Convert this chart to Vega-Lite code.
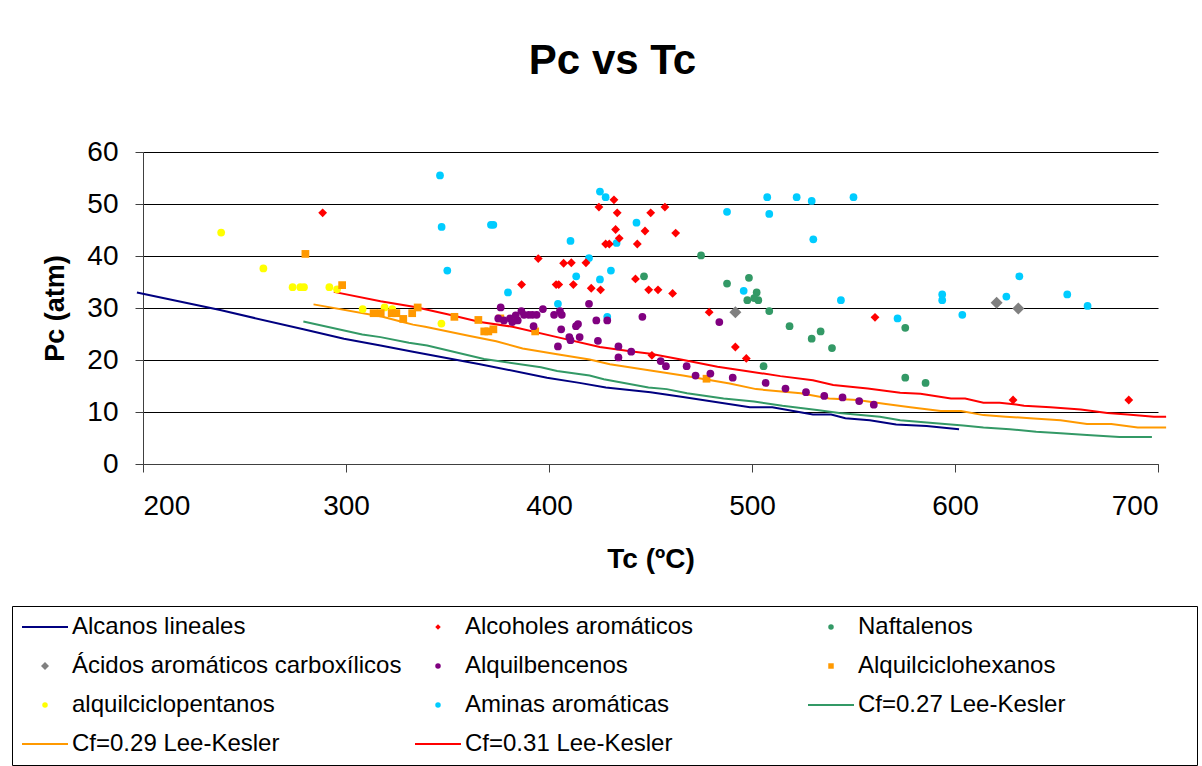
{
  "$schema": "https://vega.github.io/schema/vega-lite/v6.json",
  "width": 1015,
  "height": 312,
  "autosize": {"type": "none"},
  "padding": {"left": 143, "top": 152, "right": 44, "bottom": 302},
  "background": "white",
  "title": {
    "text": "Pc vs Tc",
    "font": "Liberation Sans",
    "fontSize": 42,
    "fontWeight": "bold",
    "color": "black",
    "baseline": "alphabetic",
    "offset": 22,
    "dx": -38
  },
  "config": {
    "view": {"stroke": null},
    "font": "Liberation Sans",
    "axis": {
      "labelFont": "Liberation Sans",
      "labelFontSize": 28,
      "labelColor": "black",
      "titleFont": "Liberation Sans",
      "titleFontSize": 28,
      "titleFontWeight": "bold",
      "titleColor": "black",
      "domainColor": "#404040",
      "domainWidth": 1,
      "tickColor": "#404040",
      "tickSize": 8,
      "gridColor": "black",
      "gridWidth": 1,
      "gridOpacity": 1
    }
  },
  "datasets": {
    "pts": [
      {"serie": "alquilciclopentanos", "Tc": 238.5, "Pc": 44.5},
      {"serie": "alquilciclopentanos", "Tc": 259.3, "Pc": 37.6},
      {"serie": "alquilciclopentanos", "Tc": 273.7, "Pc": 34.0},
      {"serie": "alquilciclopentanos", "Tc": 277.5, "Pc": 34.0},
      {"serie": "alquilciclopentanos", "Tc": 279.3, "Pc": 34.0},
      {"serie": "alquilciclopentanos", "Tc": 291.8, "Pc": 34.0},
      {"serie": "alquilciclopentanos", "Tc": 295.6, "Pc": 33.6},
      {"serie": "alquilciclopentanos", "Tc": 308.2, "Pc": 29.8},
      {"serie": "alquilciclopentanos", "Tc": 319.0, "Pc": 30.1},
      {"serie": "alquilciclopentanos", "Tc": 322.8, "Pc": 29.8},
      {"serie": "alquilciclopentanos", "Tc": 347.0, "Pc": 27.0},

      {"serie": "Alquilciclohexanos", "Tc": 280.0, "Pc": 40.4},
      {"serie": "Alquilciclohexanos", "Tc": 298.1, "Pc": 34.4},
      {"serie": "Alquilciclohexanos", "Tc": 313.6, "Pc": 29.0},
      {"serie": "Alquilciclohexanos", "Tc": 317.1, "Pc": 29.0},
      {"serie": "Alquilciclohexanos", "Tc": 322.5, "Pc": 29.0},
      {"serie": "Alquilciclohexanos", "Tc": 324.8, "Pc": 29.0},
      {"serie": "Alquilciclohexanos", "Tc": 328.2, "Pc": 27.9},
      {"serie": "Alquilciclohexanos", "Tc": 332.6, "Pc": 29.0},
      {"serie": "Alquilciclohexanos", "Tc": 335.3, "Pc": 30.1},
      {"serie": "Alquilciclohexanos", "Tc": 353.4, "Pc": 28.3},
      {"serie": "Alquilciclohexanos", "Tc": 365.2, "Pc": 27.7},
      {"serie": "Alquilciclohexanos", "Tc": 368.1, "Pc": 25.5},
      {"serie": "Alquilciclohexanos", "Tc": 370.1, "Pc": 25.5},
      {"serie": "Alquilciclohexanos", "Tc": 372.6, "Pc": 25.9},
      {"serie": "Alquilciclohexanos", "Tc": 376.0, "Pc": 28.0},
      {"serie": "Alquilciclohexanos", "Tc": 393.2, "Pc": 25.5},
      {"serie": "Alquilciclohexanos", "Tc": 477.6, "Pc": 16.4},

      {"serie": "Alcoholes aromáticos", "Tc": 288.5, "Pc": 48.3},
      {"serie": "Alcoholes aromáticos", "Tc": 386.5, "Pc": 34.5},
      {"serie": "Alcoholes aromáticos", "Tc": 394.7, "Pc": 39.5},
      {"serie": "Alcoholes aromáticos", "Tc": 403.5, "Pc": 34.5},
      {"serie": "Alcoholes aromáticos", "Tc": 404.8, "Pc": 34.5},
      {"serie": "Alcoholes aromáticos", "Tc": 407.2, "Pc": 38.6},
      {"serie": "Alcoholes aromáticos", "Tc": 411.0, "Pc": 38.7},
      {"serie": "Alcoholes aromáticos", "Tc": 412.0, "Pc": 34.5},
      {"serie": "Alcoholes aromáticos", "Tc": 418.2, "Pc": 38.7},
      {"serie": "Alcoholes aromáticos", "Tc": 420.8, "Pc": 33.8},
      {"serie": "Alcoholes aromáticos", "Tc": 424.6, "Pc": 49.4},
      {"serie": "Alcoholes aromáticos", "Tc": 425.4, "Pc": 33.5},
      {"serie": "Alcoholes aromáticos", "Tc": 427.9, "Pc": 42.3},
      {"serie": "Alcoholes aromáticos", "Tc": 429.7, "Pc": 42.3},
      {"serie": "Alcoholes aromáticos", "Tc": 432.0, "Pc": 50.8},
      {"serie": "Alcoholes aromáticos", "Tc": 432.8, "Pc": 45.1},
      {"serie": "Alcoholes aromáticos", "Tc": 433.6, "Pc": 48.3},
      {"serie": "Alcoholes aromáticos", "Tc": 434.6, "Pc": 43.4},
      {"serie": "Alcoholes aromáticos", "Tc": 442.6, "Pc": 35.6},
      {"serie": "Alcoholes aromáticos", "Tc": 443.5, "Pc": 42.3},
      {"serie": "Alcoholes aromáticos", "Tc": 447.3, "Pc": 44.8},
      {"serie": "Alcoholes aromáticos", "Tc": 449.1, "Pc": 33.5},
      {"serie": "Alcoholes aromáticos", "Tc": 450.1, "Pc": 48.3},
      {"serie": "Alcoholes aromáticos", "Tc": 450.7, "Pc": 20.9},
      {"serie": "Alcoholes aromáticos", "Tc": 453.7, "Pc": 33.5},
      {"serie": "Alcoholes aromáticos", "Tc": 457.1, "Pc": 49.4},
      {"serie": "Alcoholes aromáticos", "Tc": 460.9, "Pc": 32.8},
      {"serie": "Alcoholes aromáticos", "Tc": 462.4, "Pc": 44.4},
      {"serie": "Alcoholes aromáticos", "Tc": 478.9, "Pc": 29.2},
      {"serie": "Alcoholes aromáticos", "Tc": 491.8, "Pc": 22.5},
      {"serie": "Alcoholes aromáticos", "Tc": 497.2, "Pc": 20.3},
      {"serie": "Alcoholes aromáticos", "Tc": 560.6, "Pc": 28.2},
      {"serie": "Alcoholes aromáticos", "Tc": 628.6, "Pc": 12.3},
      {"serie": "Alcoholes aromáticos", "Tc": 685.6, "Pc": 12.3},

      {"serie": "Aminas aromáticas", "Tc": 346.3, "Pc": 55.5},
      {"serie": "Aminas aromáticas", "Tc": 347.1, "Pc": 45.6},
      {"serie": "Aminas aromáticas", "Tc": 349.9, "Pc": 37.2},
      {"serie": "Aminas aromáticas", "Tc": 371.4, "Pc": 46.0},
      {"serie": "Aminas aromáticas", "Tc": 372.6, "Pc": 46.0},
      {"serie": "Aminas aromáticas", "Tc": 379.8, "Pc": 33.0},
      {"serie": "Aminas aromáticas", "Tc": 404.4, "Pc": 30.8},
      {"serie": "Aminas aromáticas", "Tc": 410.6, "Pc": 42.9},
      {"serie": "Aminas aromáticas", "Tc": 413.4, "Pc": 36.1},
      {"serie": "Aminas aromáticas", "Tc": 419.7, "Pc": 39.6},
      {"serie": "Aminas aromáticas", "Tc": 425.1, "Pc": 52.4},
      {"serie": "Aminas aromáticas", "Tc": 427.9, "Pc": 51.3},
      {"serie": "Aminas aromáticas", "Tc": 425.1, "Pc": 35.5},
      {"serie": "Aminas aromáticas", "Tc": 430.5, "Pc": 37.2},
      {"serie": "Aminas aromáticas", "Tc": 433.3, "Pc": 42.5},
      {"serie": "Aminas aromáticas", "Tc": 428.7, "Pc": 28.3},
      {"serie": "Aminas aromáticas", "Tc": 443.1, "Pc": 46.4},
      {"serie": "Aminas aromáticas", "Tc": 487.7, "Pc": 48.5},
      {"serie": "Aminas aromáticas", "Tc": 495.9, "Pc": 33.3},
      {"serie": "Aminas aromáticas", "Tc": 507.5, "Pc": 51.3},
      {"serie": "Aminas aromáticas", "Tc": 508.5, "Pc": 48.1},
      {"serie": "Aminas aromáticas", "Tc": 522.0, "Pc": 51.3},
      {"serie": "Aminas aromáticas", "Tc": 529.4, "Pc": 50.6},
      {"serie": "Aminas aromáticas", "Tc": 530.2, "Pc": 43.2},
      {"serie": "Aminas aromáticas", "Tc": 543.8, "Pc": 31.5},
      {"serie": "Aminas aromáticas", "Tc": 550.0, "Pc": 51.3},
      {"serie": "Aminas aromáticas", "Tc": 571.7, "Pc": 28.0},
      {"serie": "Aminas aromáticas", "Tc": 593.7, "Pc": 32.6},
      {"serie": "Aminas aromáticas", "Tc": 593.7, "Pc": 31.5},
      {"serie": "Aminas aromáticas", "Tc": 603.6, "Pc": 28.7},
      {"serie": "Aminas aromáticas", "Tc": 625.3, "Pc": 32.2},
      {"serie": "Aminas aromáticas", "Tc": 631.7, "Pc": 36.1},
      {"serie": "Aminas aromáticas", "Tc": 655.3, "Pc": 32.6},
      {"serie": "Aminas aromáticas", "Tc": 665.3, "Pc": 30.4},

      {"serie": "Naftalenos", "Tc": 446.8, "Pc": 36.1},
      {"serie": "Naftalenos", "Tc": 474.9, "Pc": 40.1},
      {"serie": "Naftalenos", "Tc": 487.7, "Pc": 34.7},
      {"serie": "Naftalenos", "Tc": 498.5, "Pc": 35.8},
      {"serie": "Naftalenos", "Tc": 502.3, "Pc": 33.0},
      {"serie": "Naftalenos", "Tc": 497.7, "Pc": 31.5},
      {"serie": "Naftalenos", "Tc": 503.1, "Pc": 31.5},
      {"serie": "Naftalenos", "Tc": 501.1, "Pc": 31.9},
      {"serie": "Naftalenos", "Tc": 508.5, "Pc": 29.4},
      {"serie": "Naftalenos", "Tc": 518.5, "Pc": 26.5},
      {"serie": "Naftalenos", "Tc": 529.4, "Pc": 24.1},
      {"serie": "Naftalenos", "Tc": 533.8, "Pc": 25.5},
      {"serie": "Naftalenos", "Tc": 539.4, "Pc": 22.3},
      {"serie": "Naftalenos", "Tc": 505.7, "Pc": 18.8},
      {"serie": "Naftalenos", "Tc": 575.5, "Pc": 26.2},
      {"serie": "Naftalenos", "Tc": 575.5, "Pc": 16.6},
      {"serie": "Naftalenos", "Tc": 585.5, "Pc": 15.6},

      {"serie": "Ácidos aromáticos carboxílicos", "Tc": 491.8, "Pc": 29.2},
      {"serie": "Ácidos aromáticos carboxílicos", "Tc": 620.5, "Pc": 31.0},
      {"serie": "Ácidos aromáticos carboxílicos", "Tc": 631.2, "Pc": 29.9},

      {"serie": "Alquilbencenos", "Tc": 376.2, "Pc": 30.1},
      {"serie": "Alquilbencenos", "Tc": 375.0, "Pc": 28.0},
      {"serie": "Alquilbencenos", "Tc": 377.8, "Pc": 27.6},
      {"serie": "Alquilbencenos", "Tc": 380.8, "Pc": 28.0},
      {"serie": "Alquilbencenos", "Tc": 381.9, "Pc": 27.3},
      {"serie": "Alquilbencenos", "Tc": 383.6, "Pc": 28.6},
      {"serie": "Alquilbencenos", "Tc": 384.6, "Pc": 27.6},
      {"serie": "Alquilbencenos", "Tc": 386.4, "Pc": 29.4},
      {"serie": "Alquilbencenos", "Tc": 387.7, "Pc": 28.7},
      {"serie": "Alquilbencenos", "Tc": 390.0, "Pc": 28.7},
      {"serie": "Alquilbencenos", "Tc": 391.8, "Pc": 28.7},
      {"serie": "Alquilbencenos", "Tc": 393.9, "Pc": 28.7},
      {"serie": "Alquilbencenos", "Tc": 397.0, "Pc": 29.8},
      {"serie": "Alquilbencenos", "Tc": 392.4, "Pc": 26.5},
      {"serie": "Alquilbencenos", "Tc": 402.5, "Pc": 28.7},
      {"serie": "Alquilbencenos", "Tc": 405.4, "Pc": 29.4},
      {"serie": "Alquilbencenos", "Tc": 406.3, "Pc": 28.7},
      {"serie": "Alquilbencenos", "Tc": 404.4, "Pc": 22.6},
      {"serie": "Alquilbencenos", "Tc": 406.0, "Pc": 25.9},
      {"serie": "Alquilbencenos", "Tc": 410.0, "Pc": 24.4},
      {"serie": "Alquilbencenos", "Tc": 410.6, "Pc": 23.8},
      {"serie": "Alquilbencenos", "Tc": 413.3, "Pc": 26.5},
      {"serie": "Alquilbencenos", "Tc": 414.3, "Pc": 26.9},
      {"serie": "Alquilbencenos", "Tc": 415.1, "Pc": 24.4},
      {"serie": "Alquilbencenos", "Tc": 419.7, "Pc": 30.8},
      {"serie": "Alquilbencenos", "Tc": 423.3, "Pc": 27.6},
      {"serie": "Alquilbencenos", "Tc": 424.1, "Pc": 23.7},
      {"serie": "Alquilbencenos", "Tc": 428.7, "Pc": 27.6},
      {"serie": "Alquilbencenos", "Tc": 434.2, "Pc": 22.6},
      {"serie": "Alquilbencenos", "Tc": 434.2, "Pc": 20.5},
      {"serie": "Alquilbencenos", "Tc": 440.5, "Pc": 21.6},
      {"serie": "Alquilbencenos", "Tc": 446.0, "Pc": 28.3},
      {"serie": "Alquilbencenos", "Tc": 455.0, "Pc": 19.8},
      {"serie": "Alquilbencenos", "Tc": 457.6, "Pc": 18.8},
      {"serie": "Alquilbencenos", "Tc": 467.8, "Pc": 18.8},
      {"serie": "Alquilbencenos", "Tc": 472.2, "Pc": 17.0},
      {"serie": "Alquilbencenos", "Tc": 479.5, "Pc": 17.4},
      {"serie": "Alquilbencenos", "Tc": 483.9, "Pc": 27.3},
      {"serie": "Alquilbencenos", "Tc": 490.5, "Pc": 16.6},
      {"serie": "Alquilbencenos", "Tc": 506.7, "Pc": 15.6},
      {"serie": "Alquilbencenos", "Tc": 516.5, "Pc": 14.5},
      {"serie": "Alquilbencenos", "Tc": 526.6, "Pc": 13.8},
      {"serie": "Alquilbencenos", "Tc": 535.6, "Pc": 13.1},
      {"serie": "Alquilbencenos", "Tc": 544.6, "Pc": 12.8},
      {"serie": "Alquilbencenos", "Tc": 552.8, "Pc": 12.1},
      {"serie": "Alquilbencenos", "Tc": 560.0, "Pc": 11.4}
    ],
    "curves": [
      {"serie": "Alcanos lineales", "Tc": 197, "Pc": 33.0},
      {"serie": "Alcanos lineales", "Tc": 238, "Pc": 29.6},
      {"serie": "Alcanos lineales", "Tc": 279, "Pc": 25.9},
      {"serie": "Alcanos lineales", "Tc": 299, "Pc": 24.1},
      {"serie": "Alcanos lineales", "Tc": 317, "Pc": 22.8},
      {"serie": "Alcanos lineales", "Tc": 333, "Pc": 21.6},
      {"serie": "Alcanos lineales", "Tc": 366, "Pc": 19.2},
      {"serie": "Alcanos lineales", "Tc": 399, "Pc": 16.6},
      {"serie": "Alcanos lineales", "Tc": 415, "Pc": 15.6},
      {"serie": "Alcanos lineales", "Tc": 428, "Pc": 14.7},
      {"serie": "Alcanos lineales", "Tc": 450, "Pc": 13.8},
      {"serie": "Alcanos lineales", "Tc": 466, "Pc": 12.9},
      {"serie": "Alcanos lineales", "Tc": 499, "Pc": 10.9},
      {"serie": "Alcanos lineales", "Tc": 510, "Pc": 10.9},
      {"serie": "Alcanos lineales", "Tc": 530, "Pc": 9.5},
      {"serie": "Alcanos lineales", "Tc": 539, "Pc": 9.5},
      {"serie": "Alcanos lineales", "Tc": 546, "Pc": 8.8},
      {"serie": "Alcanos lineales", "Tc": 558, "Pc": 8.4},
      {"serie": "Alcanos lineales", "Tc": 571, "Pc": 7.6},
      {"serie": "Alcanos lineales", "Tc": 586, "Pc": 7.3},
      {"serie": "Alcanos lineales", "Tc": 602, "Pc": 6.7},

      {"serie": "Cf=0.27 Lee-Kesler", "Tc": 279, "Pc": 27.4},
      {"serie": "Cf=0.27 Lee-Kesler", "Tc": 308, "Pc": 24.9},
      {"serie": "Cf=0.27 Lee-Kesler", "Tc": 317, "Pc": 24.4},
      {"serie": "Cf=0.27 Lee-Kesler", "Tc": 331, "Pc": 23.3},
      {"serie": "Cf=0.27 Lee-Kesler", "Tc": 340, "Pc": 22.8},
      {"serie": "Cf=0.27 Lee-Kesler", "Tc": 368, "Pc": 20.2},
      {"serie": "Cf=0.27 Lee-Kesler", "Tc": 396, "Pc": 18.6},
      {"serie": "Cf=0.27 Lee-Kesler", "Tc": 404, "Pc": 17.9},
      {"serie": "Cf=0.27 Lee-Kesler", "Tc": 420, "Pc": 17.0},
      {"serie": "Cf=0.27 Lee-Kesler", "Tc": 427, "Pc": 16.3},
      {"serie": "Cf=0.27 Lee-Kesler", "Tc": 449, "Pc": 14.7},
      {"serie": "Cf=0.27 Lee-Kesler", "Tc": 458, "Pc": 14.4},
      {"serie": "Cf=0.27 Lee-Kesler", "Tc": 468, "Pc": 13.6},
      {"serie": "Cf=0.27 Lee-Kesler", "Tc": 486, "Pc": 12.6},
      {"serie": "Cf=0.27 Lee-Kesler", "Tc": 501, "Pc": 12.0},
      {"serie": "Cf=0.27 Lee-Kesler", "Tc": 515, "Pc": 11.2},
      {"serie": "Cf=0.27 Lee-Kesler", "Tc": 532, "Pc": 10.4},
      {"serie": "Cf=0.27 Lee-Kesler", "Tc": 543, "Pc": 9.8},
      {"serie": "Cf=0.27 Lee-Kesler", "Tc": 563, "Pc": 9.1},
      {"serie": "Cf=0.27 Lee-Kesler", "Tc": 573, "Pc": 8.4},
      {"serie": "Cf=0.27 Lee-Kesler", "Tc": 589, "Pc": 7.9},
      {"serie": "Cf=0.27 Lee-Kesler", "Tc": 604, "Pc": 7.4},
      {"serie": "Cf=0.27 Lee-Kesler", "Tc": 614, "Pc": 7.0},
      {"serie": "Cf=0.27 Lee-Kesler", "Tc": 627, "Pc": 6.7},
      {"serie": "Cf=0.27 Lee-Kesler", "Tc": 640, "Pc": 6.2},
      {"serie": "Cf=0.27 Lee-Kesler", "Tc": 652, "Pc": 5.9},
      {"serie": "Cf=0.27 Lee-Kesler", "Tc": 665, "Pc": 5.6},
      {"serie": "Cf=0.27 Lee-Kesler", "Tc": 681, "Pc": 5.2},
      {"serie": "Cf=0.27 Lee-Kesler", "Tc": 697, "Pc": 5.2},

      {"serie": "Cf=0.29 Lee-Kesler", "Tc": 284, "Pc": 30.7},
      {"serie": "Cf=0.29 Lee-Kesler", "Tc": 318, "Pc": 28.3},
      {"serie": "Cf=0.29 Lee-Kesler", "Tc": 326, "Pc": 27.5},
      {"serie": "Cf=0.29 Lee-Kesler", "Tc": 333, "Pc": 26.8},
      {"serie": "Cf=0.29 Lee-Kesler", "Tc": 339, "Pc": 26.4},
      {"serie": "Cf=0.29 Lee-Kesler", "Tc": 361, "Pc": 24.6},
      {"serie": "Cf=0.29 Lee-Kesler", "Tc": 374, "Pc": 23.6},
      {"serie": "Cf=0.29 Lee-Kesler", "Tc": 387, "Pc": 22.2},
      {"serie": "Cf=0.29 Lee-Kesler", "Tc": 404, "Pc": 21.1},
      {"serie": "Cf=0.29 Lee-Kesler", "Tc": 420, "Pc": 20.1},
      {"serie": "Cf=0.29 Lee-Kesler", "Tc": 430, "Pc": 19.2},
      {"serie": "Cf=0.29 Lee-Kesler", "Tc": 450, "Pc": 18.0},
      {"serie": "Cf=0.29 Lee-Kesler", "Tc": 466, "Pc": 17.0},
      {"serie": "Cf=0.29 Lee-Kesler", "Tc": 489, "Pc": 15.5},
      {"serie": "Cf=0.29 Lee-Kesler", "Tc": 502, "Pc": 14.4},
      {"serie": "Cf=0.29 Lee-Kesler", "Tc": 524, "Pc": 13.6},
      {"serie": "Cf=0.29 Lee-Kesler", "Tc": 538, "Pc": 12.6},
      {"serie": "Cf=0.29 Lee-Kesler", "Tc": 552, "Pc": 12.3},
      {"serie": "Cf=0.29 Lee-Kesler", "Tc": 565, "Pc": 11.6},
      {"serie": "Cf=0.29 Lee-Kesler", "Tc": 578, "Pc": 10.9},
      {"serie": "Cf=0.29 Lee-Kesler", "Tc": 593, "Pc": 10.2},
      {"serie": "Cf=0.29 Lee-Kesler", "Tc": 603, "Pc": 10.2},
      {"serie": "Cf=0.29 Lee-Kesler", "Tc": 614, "Pc": 9.4},
      {"serie": "Cf=0.29 Lee-Kesler", "Tc": 625, "Pc": 9.1},
      {"serie": "Cf=0.29 Lee-Kesler", "Tc": 637, "Pc": 8.8},
      {"serie": "Cf=0.29 Lee-Kesler", "Tc": 652, "Pc": 8.4},
      {"serie": "Cf=0.29 Lee-Kesler", "Tc": 665, "Pc": 7.7},
      {"serie": "Cf=0.29 Lee-Kesler", "Tc": 677, "Pc": 7.7},
      {"serie": "Cf=0.29 Lee-Kesler", "Tc": 690, "Pc": 7.0},
      {"serie": "Cf=0.29 Lee-Kesler", "Tc": 704, "Pc": 7.0},

      {"serie": "Cf=0.31 Lee-Kesler", "Tc": 294, "Pc": 33.1},
      {"serie": "Cf=0.31 Lee-Kesler", "Tc": 317, "Pc": 31.3},
      {"serie": "Cf=0.31 Lee-Kesler", "Tc": 334, "Pc": 30.2},
      {"serie": "Cf=0.31 Lee-Kesler", "Tc": 350, "Pc": 28.8},
      {"serie": "Cf=0.31 Lee-Kesler", "Tc": 366, "Pc": 27.3},
      {"serie": "Cf=0.31 Lee-Kesler", "Tc": 382, "Pc": 26.4},
      {"serie": "Cf=0.31 Lee-Kesler", "Tc": 404, "Pc": 24.4},
      {"serie": "Cf=0.31 Lee-Kesler", "Tc": 425, "Pc": 22.5},
      {"serie": "Cf=0.31 Lee-Kesler", "Tc": 440, "Pc": 21.7},
      {"serie": "Cf=0.31 Lee-Kesler", "Tc": 450, "Pc": 21.2},
      {"serie": "Cf=0.31 Lee-Kesler", "Tc": 465, "Pc": 20.1},
      {"serie": "Cf=0.31 Lee-Kesler", "Tc": 483, "Pc": 18.7},
      {"serie": "Cf=0.31 Lee-Kesler", "Tc": 497, "Pc": 17.9},
      {"serie": "Cf=0.31 Lee-Kesler", "Tc": 514, "Pc": 16.9},
      {"serie": "Cf=0.31 Lee-Kesler", "Tc": 530, "Pc": 16.1},
      {"serie": "Cf=0.31 Lee-Kesler", "Tc": 540, "Pc": 15.2},
      {"serie": "Cf=0.31 Lee-Kesler", "Tc": 557, "Pc": 14.5},
      {"serie": "Cf=0.31 Lee-Kesler", "Tc": 573, "Pc": 13.7},
      {"serie": "Cf=0.31 Lee-Kesler", "Tc": 583, "Pc": 13.5},
      {"serie": "Cf=0.31 Lee-Kesler", "Tc": 598, "Pc": 12.6},
      {"serie": "Cf=0.31 Lee-Kesler", "Tc": 605, "Pc": 12.6},
      {"serie": "Cf=0.31 Lee-Kesler", "Tc": 614, "Pc": 11.8},
      {"serie": "Cf=0.31 Lee-Kesler", "Tc": 622, "Pc": 11.8},
      {"serie": "Cf=0.31 Lee-Kesler", "Tc": 629, "Pc": 11.5},
      {"serie": "Cf=0.31 Lee-Kesler", "Tc": 634, "Pc": 11.2},
      {"serie": "Cf=0.31 Lee-Kesler", "Tc": 647, "Pc": 10.9},
      {"serie": "Cf=0.31 Lee-Kesler", "Tc": 662, "Pc": 10.5},
      {"serie": "Cf=0.31 Lee-Kesler", "Tc": 675, "Pc": 9.8},
      {"serie": "Cf=0.31 Lee-Kesler", "Tc": 685, "Pc": 9.5},
      {"serie": "Cf=0.31 Lee-Kesler", "Tc": 698, "Pc": 9.1},
      {"serie": "Cf=0.31 Lee-Kesler", "Tc": 704, "Pc": 9.1}
    ]
  },
  "encoding": {
    "x": {
      "field": "Tc",
      "type": "quantitative",
      "scale": {"domain": [200, 700], "nice": false, "zero": false},
      "axis": {
        "title": "Tc (ºC)",
        "values": [200, 300, 400, 500, 600, 700],
        "grid": false,
        "labelPadding": 20,
        "titlePadding": 25
      }
    },
    "y": {
      "field": "Pc",
      "type": "quantitative",
      "scale": {"domain": [0, 60], "nice": false},
      "axis": {
        "title": "Pc (atm)",
        "values": [0, 10, 20, 30, 40, 50, 60],
        "grid": true,
        "labelPadding": 17,
        "titlePadding": 17,
        "titleFontSize": 27
      }
    },
    "color": {
      "field": "serie",
      "type": "nominal",
      "scale": {
        "domain": ["Alcanos lineales", "Ácidos aromáticos carboxílicos", "alquilciclopentanos", "Cf=0.29 Lee-Kesler", "Alcoholes aromáticos", "Alquilbencenos", "Aminas aromáticas", "Cf=0.31 Lee-Kesler", "Naftalenos", "Alquilciclohexanos", "Cf=0.27 Lee-Kesler"],
        "range": ["#000080", "#808080", "#FFFF00", "#FF9900", "#FF0000", "#800080", "#00CCFF", "#FF0000", "#339966", "#FF9900", "#339966"]
      },
      "legend": {
        "title": null,
        "orient": "none",
        "legendX": -131,
        "legendY": 454,
        "columns": 3,
        "gridAlign": "all",
        "columnPadding": 12,
        "rowPadding": 15,
        "padding": 9,
        "clipHeight": 24,
        "strokeColor": "black",
        "fillColor": "white",
        "labelFont": "Liberation Sans",
        "labelFontSize": 24,
        "labelColor": "black",
        "labelLimit": 500,
        "labelOffset": 4,
        "encode": {
          "entries": {
            "update": {
              "width": {"value": 381}
            }
          },
          "symbols": {
            "update": {
              "x": {"value": 24},
              "fill": {"scale": "color", "field": "value"},
              "stroke": {"scale": "color", "field": "value"},
              "strokeWidth": {"signal": "indexof(['Alcanos lineales', 'Cf=0.27 Lee-Kesler', 'Cf=0.29 Lee-Kesler', 'Cf=0.31 Lee-Kesler'], datum.value) >= 0 ? 2 : 0"},
              "size": {"signal": "indexof(['Alcanos lineales', 'Cf=0.27 Lee-Kesler', 'Cf=0.29 Lee-Kesler', 'Cf=0.31 Lee-Kesler'], datum.value) >= 0 ? 2116 : (datum.value === 'Ácidos aromáticos carboxílicos' ? 64 : 30)"},
              "opacity": {"value": 1}
            }
          },
          "labels": {
            "update": {
              "x": {"value": 51}
            }
          }
        }
      }
    }
  },
  "layer": [
    {
      "data": {"name": "curves"},
      "mark": {"type": "line", "strokeWidth": 2, "clip": false},
      "encoding": {"detail": {"field": "serie", "type": "nominal"}}
    },
    {
      "data": {"name": "pts"},
      "transform": [{"filter": {"field": "serie", "oneOf": ["Naftalenos", "Alquilbencenos", "Alquilciclohexanos", "alquilciclopentanos", "Aminas aromáticas"]}}],
      "mark": {"type": "point", "filled": true, "opacity": 1, "size": 60, "strokeWidth": 0},
      "encoding": {
        "shape": {
          "field": "serie",
          "type": "nominal",
          "scale": {
            "domain": ["Alcanos lineales", "Ácidos aromáticos carboxílicos", "alquilciclopentanos", "Cf=0.29 Lee-Kesler", "Alcoholes aromáticos", "Alquilbencenos", "Aminas aromáticas", "Cf=0.31 Lee-Kesler", "Naftalenos", "Alquilciclohexanos", "Cf=0.27 Lee-Kesler"],
            "range": ["stroke", "diamond", "circle", "stroke", "diamond", "circle", "circle", "stroke", "circle", "square", "stroke"]
          }
        }
      }
    },
    {
      "data": {"name": "pts"},
      "transform": [{"filter": {"field": "serie", "equal": "Alcoholes aromáticos"}}],
      "mark": {"type": "point", "filled": true, "opacity": 1, "size": 78, "strokeWidth": 0},
      "encoding": {"shape": {"field": "serie", "type": "nominal"}}
    },
    {
      "data": {"name": "pts"},
      "transform": [{"filter": {"field": "serie", "equal": "Ácidos aromáticos carboxílicos"}}],
      "mark": {"type": "point", "filled": true, "opacity": 1, "size": 144, "strokeWidth": 0},
      "encoding": {"shape": {"field": "serie", "type": "nominal"}}
    }
  ]
}
